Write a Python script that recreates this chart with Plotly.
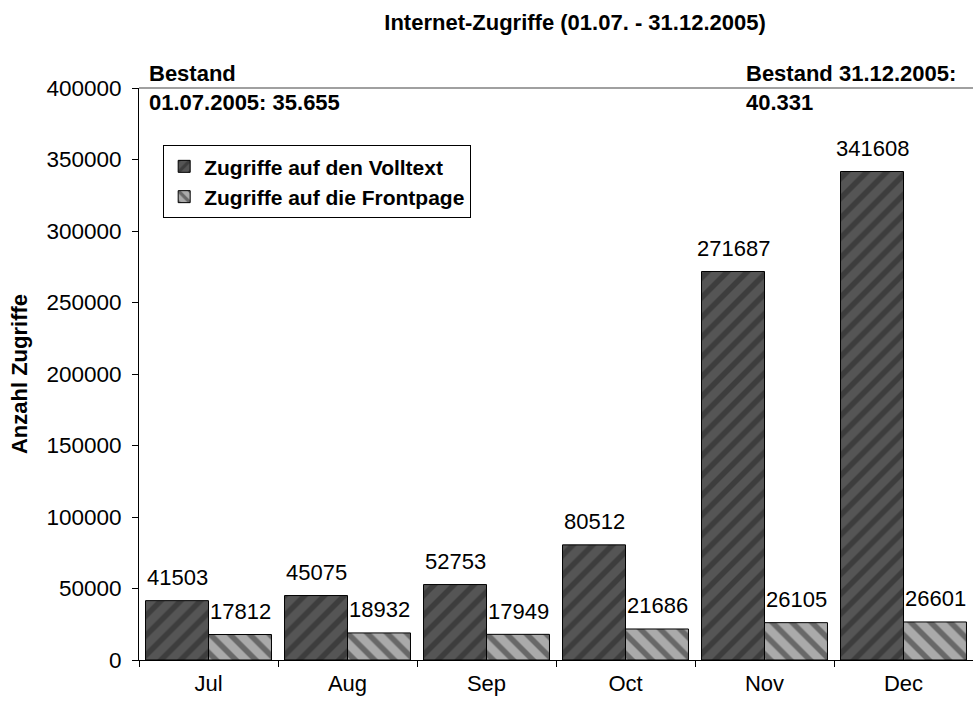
import plotly.graph_objects as go

months = ["Jul", "Aug", "Sep", "Oct", "Nov", "Dec"]
volltext = [41503, 45075, 52753, 80512, 271687, 341608]
frontpage = [17812, 18932, 17949, 21686, 26105, 26601]
y_ticks = [0, 50000, 100000, 150000, 200000, 250000, 300000, 350000, 400000]

FONT = "Liberation Sans, Arial, sans-serif"

fig = go.Figure()
fig.add_trace(go.Bar(
    x=months, y=volltext, name="<b>Zugriffe auf den Volltext</b>", legendgroup="a",
    marker=dict(color="#555555", line=dict(color="black", width=1),
                pattern=dict(shape="/", fgcolor="#262626", bgcolor="#555555",
                             size=14, solidity=0.4)),
))
fig.add_trace(go.Bar(
    x=months, y=frontpage, name="<b>Zugriffe auf die Frontpage</b>", legendgroup="b",
    marker=dict(color="#aaaaaa", line=dict(color="black", width=1),
                pattern=dict(shape="\\", fgcolor="#262626", bgcolor="#aaaaaa",
                             size=14, solidity=0.4)),
))

# data labels
lab = dict(size=22, color="black", family=FONT)
annots = []
for m, v in zip(months, volltext):
    annots.append(dict(x=m, y=v, text=str(v), xref="x", yref="y", showarrow=False,
                       xshift=-31.5, yshift=23, font=lab))
for m, v in zip(months, frontpage):
    annots.append(dict(x=m, y=v, text=str(v), xref="x", yref="y", showarrow=False,
                       xshift=31.5, yshift=23, font=lab))

bold = dict(size=22, color="black", family=FONT)
annots += [
    dict(x=0.009, y=1.026, xref="paper", yref="paper", xanchor="left", yanchor="middle",
         text="<b>Bestand</b>", showarrow=False, font=bold),
    dict(x=0.009, y=0.974, xref="paper", yref="paper", xanchor="left", yanchor="middle",
         text="<b>01.07.2005: 35.655</b>", showarrow=False, font=bold),
    dict(x=0.725, y=1.026, xref="paper", yref="paper", xanchor="left", yanchor="middle",
         text="<b>Bestand 31.12.2005:</b>", showarrow=False, font=bold),
    dict(x=0.725, y=0.974, xref="paper", yref="paper", xanchor="left", yanchor="middle",
         text="<b>40.331</b>", showarrow=False, font=bold),
]

fig.update_layout(
    width=973, height=705,
    margin=dict(l=139, r=0, t=88, b=45),
    paper_bgcolor="white", plot_bgcolor="white",
    font=dict(family=FONT, color="black", size=22),
    title=dict(text="<b>Internet-Zugriffe (01.07. - 31.12.2005)</b>",
               x=0.591, xanchor="center", y=0.969, yanchor="middle",
               font=dict(size=22, family=FONT, color="black")),
    barmode="group", bargap=0.094, bargroupgap=0,
    showlegend=True,
    legend=dict(x=0.029, y=0.9, xanchor="left", yanchor="top",
                bordercolor="black", borderwidth=1, bgcolor="white",
                font=dict(size=21, family=FONT, color="black"),
                itemwidth=30, tracegroupgap=0, traceorder="grouped"),
    annotations=annots,
    shapes=[dict(type="line", xref="paper", yref="paper", x0=0, x1=1, y0=1, y1=1,
                 line=dict(color="#808080", width=1.5))],
    xaxis=dict(showline=True, linecolor="black", linewidth=1,
               ticks="outside", ticklen=6, tickcolor="black", tickson="boundaries",
               ticklabelstandoff=4,
               showgrid=False, tickfont=dict(size=22, family=FONT, color="black")),
    yaxis=dict(range=[0, 400000], tickvals=y_ticks, tickformat="d",
               showline=True, linecolor="black", linewidth=1,
               ticks="outside", ticklen=6, tickcolor="black", showgrid=False,
               zeroline=False, ticklabelstandoff=6,
               tickfont=dict(size=22.5, family=FONT, color="black"),
               title=dict(text="<b>Anzahl Zugriffe</b>", standoff=12,
                          font=dict(size=22, family=FONT, color="black"))),
)

fig.write_html("out.html", config={"displayModeBar": False},
               post_script="document.body.style.margin='0';document.body.style.overflow='hidden';")
